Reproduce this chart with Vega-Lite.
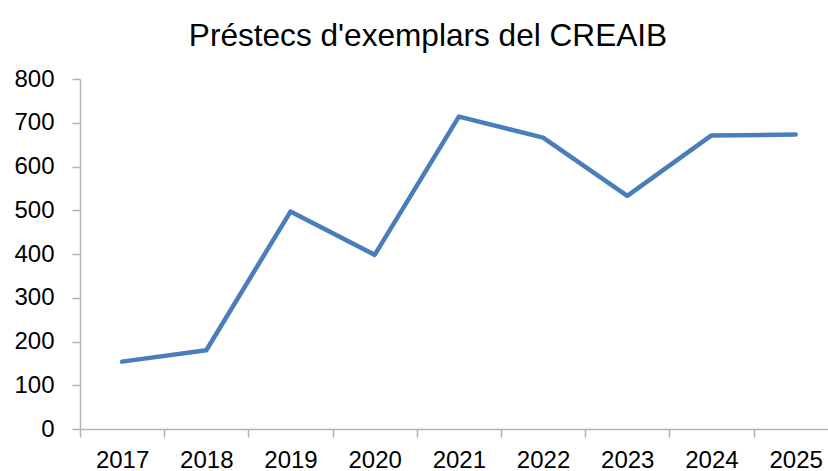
{
  "$schema": "https://vega.github.io/schema/vega-lite/v6.json",
  "width": 748,
  "height": 350,
  "autosize": "none",
  "padding": {"left": 80, "top": 79, "right": 0, "bottom": 42},
  "background": "white",
  "title": {
    "text": "Préstecs d'exemplars del CREAIB",
    "font": "Liberation Sans",
    "fontSize": 31.6,
    "fontWeight": "normal",
    "color": "#000000",
    "anchor": "middle",
    "frame": "group",
    "dx": -26,
    "offset": 14
  },
  "data": {
    "values": [
      {"year": 2017, "prestecs": 154},
      {"year": 2018, "prestecs": 180},
      {"year": 2019, "prestecs": 497},
      {"year": 2020, "prestecs": 398},
      {"year": 2021, "prestecs": 714},
      {"year": 2022, "prestecs": 666},
      {"year": 2023, "prestecs": 533},
      {"year": 2024, "prestecs": 671},
      {"year": 2025, "prestecs": 673}
    ]
  },
  "mark": {"type": "line", "color": "#4a7ebb", "strokeWidth": 4.5, "strokeCap": "round", "strokeJoin": "round"},
  "encoding": {
    "x": {
      "field": "year",
      "type": "quantitative",
      "scale": {"domain": [2016.5, 2025.384], "nice": false, "zero": false},
      "axis": {
        "title": null,
        "values": [2016.5, 2017.5, 2018.5, 2019.5, 2020.5, 2021.5, 2022.5, 2023.5, 2024.5],
        "labelExpr": "format(datum.value + 0.5, 'd')",
        "labelOffset": 42.08,
        "labelFlush": false,
        "labelOverlap": false,
        "labelBound": false,
        "labelFont": "Liberation Sans",
        "labelFontSize": 24,
        "labelColor": "#000000",
        "labelPadding": 11,
        "tickSize": 8,
        "tickColor": "#b3b3b3",
        "tickWidth": 1.5,
        "domainColor": "#b3b3b3",
        "domainWidth": 1.5,
        "grid": false
      }
    },
    "y": {
      "field": "prestecs",
      "type": "quantitative",
      "scale": {"domain": [0, 800], "nice": false},
      "axis": {
        "title": null,
        "values": [0, 100, 200, 300, 400, 500, 600, 700, 800],
        "labelFont": "Liberation Sans",
        "labelFontSize": 24,
        "labelColor": "#000000",
        "labelPadding": 18,
        "tickSize": 8,
        "tickColor": "#b3b3b3",
        "tickWidth": 1.5,
        "domainColor": "#b3b3b3",
        "domainWidth": 1.5,
        "grid": false
      }
    }
  },
  "config": {"view": {"stroke": null}}
}
